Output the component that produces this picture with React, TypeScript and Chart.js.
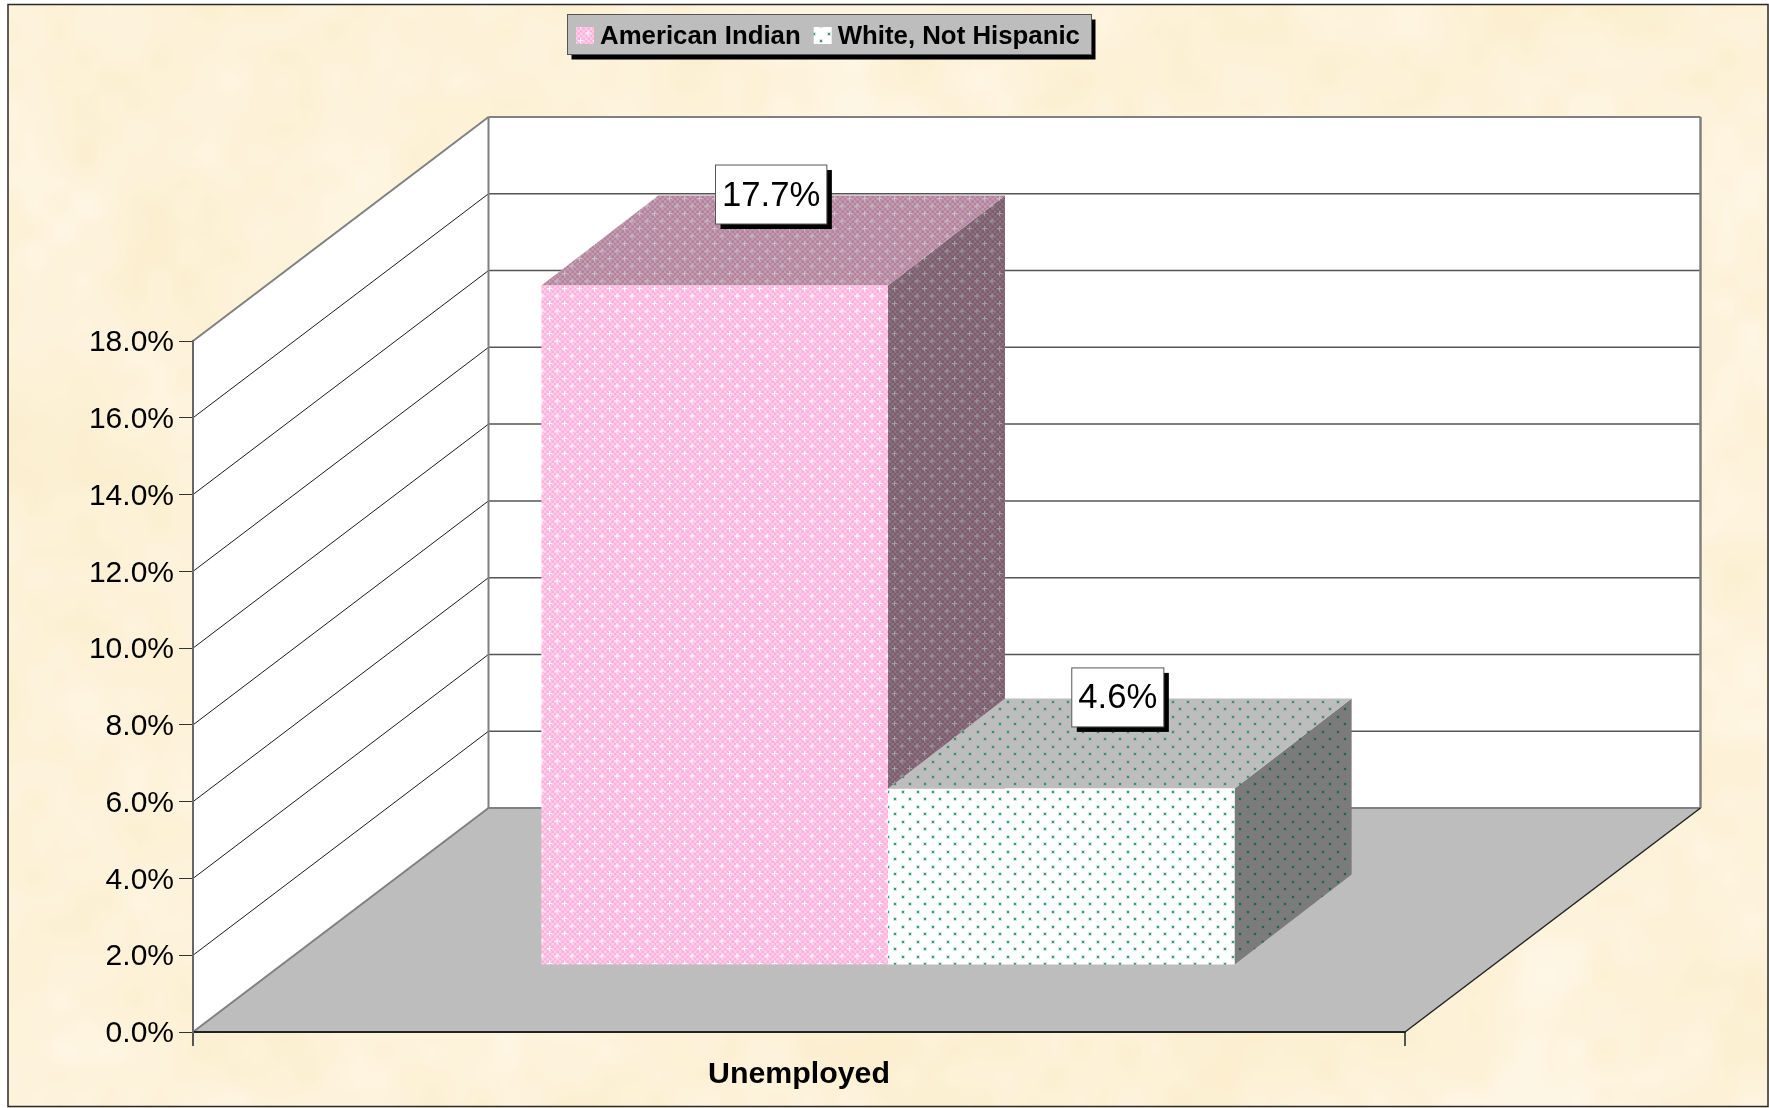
import React, { useEffect, useRef } from "react";
import { Chart, registerables } from "chart.js";

Chart.register(...registerables);

const categories = ["Unemployed"];
const seriesNames = ["American Indian", "White, Not Hispanic"];
const americanIndian = [17.7];
const whiteNotHispanic = [4.6];
const axisMax = 18;
const axisStep = 2;

const W = 1769;
const H = 1108;
const FONT = '"Liberation Sans", Arial, sans-serif';
const AREA_LEFT = 193;
const AREA_TOP = 341;
const AREA_RIGHT = 1405;
const AREA_BOTTOM = 1032;
const FLOOR_DX = 295.5;
const FLOOR_DY = -224;
const BAR_SHIFT_X = 89;
const BAR_SHIFT_Y = -67;
const BAR_DX = 117;
const BAR_DY = -90;

function tile(draw: (c: CanvasRenderingContext2D) => void, size = 15) {
  const cv = document.createElement("canvas");
  cv.width = size;
  cv.height = size;
  const c = cv.getContext("2d")!;
  draw(c);
  return c.createPattern(cv, "repeat")!;
}

function checkTile(mean: string, a: string, b: string, plus: string) {
  return tile((c) => {
    c.fillStyle = mean;
    c.fillRect(0, 0, 15, 15);
    const cell = 2.5;
    for (let i = 0; i < 6; i++) {
      for (let j = 0; j < 6; j++) {
        c.fillStyle = (i + j) % 2 === 0 ? a : b;
        c.fillRect(i * cell, j * cell, cell, cell);
      }
    }
    c.fillStyle = plus;
    for (const [x, y] of [[3, 3], [10.5, 10.5]]) {
      c.fillRect(x - 2.5, y - 0.5, 5, 1);
      c.fillRect(x - 0.5, y - 2.5, 1, 5);
    }
  });
}

function dotTile(bg: string, halo: string, dot: string) {
  return tile((c) => {
    c.fillStyle = bg;
    c.fillRect(0, 0, 15, 15);
    for (const [x, y] of [[3, 3], [10, 10]]) {
      c.fillStyle = halo;
      c.fillRect(x - 1, y - 1, 4, 4);
      c.fillStyle = dot;
      c.fillRect(x, y, 2, 2);
    }
  });
}

function parchment() {
  const cv = document.createElement("canvas");
  const sw = Math.ceil(W / 5);
  const sh = Math.ceil(H / 5);
  cv.width = sw;
  cv.height = sh;
  const c = cv.getContext("2d")!;
  const img = c.createImageData(sw, sh);
  const hash = (x: number, y: number) => {
    const s = Math.sin(x * 127.1 + y * 311.7) * 43758.5453;
    return s - Math.floor(s);
  };
  const smooth = (t: number) => t * t * (3 - 2 * t);
  const noise = (x: number, y: number) => {
    const xi = Math.floor(x);
    const yi = Math.floor(y);
    const u = smooth(x - xi);
    const v = smooth(y - yi);
    const top = hash(xi, yi) * (1 - u) + hash(xi + 1, yi) * u;
    const bot = hash(xi, yi + 1) * (1 - u) + hash(xi + 1, yi + 1) * u;
    return top * (1 - v) + bot * v;
  };
  for (let y = 0; y < sh; y++) {
    for (let x = 0; x < sw; x++) {
      const n =
        0.3 * noise(x / 40, y / 40) +
        0.4 * noise(x / 14 + 40, y / 14 + 9) +
        0.3 * noise(x / 5 + 7, y / 5 + 70);
      const k = (n - 0.5) * 2;
      const i = (x + y * sw) * 4;
      img.data[i] = 253 + k * 2;
      img.data[i + 1] = 242 + k * 6;
      img.data[i + 2] = 217 + k * 17;
      img.data[i + 3] = 255;
    }
  }
  c.putImageData(img, 0, 0);
  return cv;
}

function poly(c: CanvasRenderingContext2D, pts: number[][], fill?: any) {
  c.beginPath();
  pts.forEach(([x, y], i) => (i ? c.lineTo(x, y) : c.moveTo(x, y)));
  c.closePath();
  c.fillStyle = fill;
  c.fill();
}

function line(c: CanvasRenderingContext2D, x1: number, y1: number, x2: number, y2: number, color: string, lw: number) {
  c.beginPath();
  c.moveTo(x1, y1);
  c.lineTo(x2, y2);
  c.strokeStyle = color;
  c.lineWidth = lw;
  c.stroke();
}

export default function App() {
  const ref = useRef<HTMLCanvasElement>(null);

  useEffect(() => {
    const pinkFront = checkTile("#FFC0E4", "#FFB0DC", "#FFD0EC", "#FFFFFF");
    const pinkTop = checkTile("#BB8FA8", "#B0829C", "#C69CB3", "#C8C0C4");
    const pinkSide = checkTile("#836675", "#7A5D6C", "#8E7281", "#A0A0A0");
    const whiteFront = dotTile("#FFFFFF", "#D5EBE2", "#3A9A74");
    const whiteTop = dotTile("#BDBDBD", "#A6B8AF", "#458A6E");
    const whiteSide = dotTile("#7B7B7B", "#6E7A74", "#21634B");
    const paper = parchment();
    const fronts = [pinkFront, whiteFront];
    const tops = [pinkTop, whiteTop];
    const sides = [pinkSide, whiteSide];

    const scene3d = {
      id: "scene3d",
      beforeDraw(chart: any) {
        const c = chart.ctx as CanvasRenderingContext2D;
        const y = chart.scales.y;
        const a = chart.chartArea;
        const y0 = y.getPixelForValue(0);
        const yT = y.getPixelForValue(axisMax);
        c.save();
        c.fillStyle = "#FFFFFF";
        c.fillRect(0, 0, W, H);
        c.imageSmoothingEnabled = true;
        c.imageSmoothingQuality = "high";
        c.drawImage(paper, 8, 4, W - 8, H - 4);
        c.strokeStyle = "#2A2A2A";
        c.lineWidth = 1.5;
        c.strokeRect(8, 4.5, W - 9, H - 6);

        const bl = a.left + FLOOR_DX;
        const br = a.right + FLOOR_DX;
        poly(c, [[bl, yT + FLOOR_DY], [br, yT + FLOOR_DY], [br, y0 + FLOOR_DY], [bl, y0 + FLOOR_DY]], "#FFFFFF");
        poly(c, [[a.left, yT], [bl, yT + FLOOR_DY], [bl, y0 + FLOOR_DY], [a.left, y0]], "#FFFFFF");
        poly(c, [[a.left, y0], [a.right, y0], [br, y0 + FLOOR_DY], [bl, y0 + FLOOR_DY]], "#BDBDBD");

        y.ticks.forEach((t: any) => {
          if (t.value === 0 || t.value === axisMax) return;
          const p = y.getPixelForValue(t.value);
          line(c, a.left, p, bl, p + FLOOR_DY, "#1A1A1A", 1);
          line(c, bl, p + FLOOR_DY, br, p + FLOOR_DY, "#555555", 1.5);
        });
        line(c, a.left, yT, bl, yT + FLOOR_DY, "#808080", 2);
        line(c, bl, yT + FLOOR_DY, br, yT + FLOOR_DY, "#808080", 2);
        line(c, bl, yT + FLOOR_DY, bl, y0 + FLOOR_DY, "#808080", 2);
        line(c, br, yT + FLOOR_DY, br, y0 + FLOOR_DY, "#808080", 2.5);
        line(c, bl, y0 + FLOOR_DY, br, y0 + FLOOR_DY, "#808080", 2);
        line(c, a.left, y0, bl, y0 + FLOOR_DY, "#808080", 2);
        line(c, a.right, y0, br, y0 + FLOOR_DY, "#222222", 1.5);
        c.restore();
      },
      beforeDatasetsDraw(chart: any) {
        const c = chart.ctx as CanvasRenderingContext2D;
        c.save();
        c.translate(BAR_SHIFT_X, BAR_SHIFT_Y);
        chart.data.datasets.forEach((_: any, i: number) => {
          chart.getDatasetMeta(i).data.forEach((bar: any) => {
            const l = bar.x - bar.width / 2;
            const r = bar.x + bar.width / 2;
            poly(c, [[r, bar.y], [r + BAR_DX, bar.y + BAR_DY], [r + BAR_DX, bar.base + BAR_DY], [r, bar.base]], sides[i]);
            poly(c, [[l, bar.y], [r, bar.y], [r + BAR_DX, bar.y + BAR_DY], [l + BAR_DX, bar.y + BAR_DY]], tops[i]);
          });
        });
      },
      afterDatasetsDraw(chart: any) {
        const c = chart.ctx as CanvasRenderingContext2D;
        c.restore();
        c.save();
        c.font = `34.7px ${FONT}`;
        c.textAlign = "center";
        c.textBaseline = "middle";
        chart.data.datasets.forEach((ds: any, i: number) => {
          chart.getDatasetMeta(i).data.forEach((bar: any, j: number) => {
            const text = `${ds.data[j].toFixed(1)}%`;
            const cx = bar.x + BAR_SHIFT_X + BAR_DX / 2 - 2;
            const cy = bar.y + BAR_SHIFT_Y + BAR_DY - 1;
            const w = c.measureText(text).width + 13;
            const h = 59;
            c.fillStyle = "#000000";
            c.fillRect(cx - w / 2 + 5, cy - h / 2 + 5, w, h);
            c.fillStyle = "#FFFFFF";
            c.fillRect(cx - w / 2, cy - h / 2, w, h);
            c.strokeStyle = "#555555";
            c.lineWidth = 1;
            c.strokeRect(cx - w / 2, cy - h / 2, w, h);
            c.fillStyle = "#000000";
            c.fillText(text, cx, cy + 1.5);
          });
        });
        c.restore();
      },
      afterDraw(chart: any) {
        const c = chart.ctx as CanvasRenderingContext2D;
        c.save();
        const lx = 567.5;
        const ly = 14.5;
        const lw = 524;
        const lh = 40;
        c.fillStyle = "#000000";
        c.fillRect(lx + 4, ly + 5, lw, lh);
        c.fillStyle = "#BDBDBD";
        c.fillRect(lx, ly, lw, lh);
        c.strokeStyle = "#555555";
        c.lineWidth = 1;
        c.strokeRect(lx, ly, lw, lh);
        c.font = `bold 25.8px ${FONT}`;
        c.textBaseline = "middle";
        c.textAlign = "left";
        let x = 576;
        chart.data.datasets.forEach((ds: any, i: number) => {
          c.fillStyle = fronts[i];
          c.fillRect(x, 27, 18, 17);
          c.fillStyle = "#000000";
          c.fillText(ds.label, x + 24, 36.5);
          x += 24 + c.measureText(ds.label).width + 13;
        });
        c.restore();
      },
    };

    const chart = new Chart(ref.current!, {
      type: "bar",
      data: {
        labels: categories,
        datasets: [
          { label: seriesNames[0], data: americanIndian, backgroundColor: pinkFront, clip: false },
          { label: seriesNames[1], data: whiteNotHispanic, backgroundColor: whiteFront, clip: false },
        ],
      } as any,
      options: {
        responsive: false,
        animation: false,
        devicePixelRatio: 1,
        layout: { padding: { left: 0, top: AREA_TOP, right: W - AREA_RIGHT, bottom: 0 } },
        datasets: { bar: { barPercentage: 1, categoryPercentage: 0.572, borderWidth: 0 } },
        plugins: { legend: { display: false }, title: { display: false }, tooltip: { enabled: false } },
        scales: {
          x: {
            afterFit: (s: any) => {
              s.height = H - AREA_BOTTOM;
            },
            grid: { drawOnChartArea: false, color: "#555555", lineWidth: 2, tickLength: 14 },
            border: { color: "#222222", width: 2 },
            ticks: {
              color: "#000000",
              padding: 10,
              maxRotation: 0,
              font: { family: FONT, size: 30.3, weight: "bold" },
            },
          },
          y: {
            min: 0,
            max: axisMax,
            afterFit: (s: any) => {
              s.width = AREA_LEFT;
            },
            grid: { drawOnChartArea: false, color: "#333333", lineWidth: 1, tickLength: 14 },
            border: { color: "#666666", width: 2 },
            ticks: {
              stepSize: axisStep,
              color: "#000000",
              padding: 5,
              labelOffset: 2,
              font: { family: FONT, size: 30 },
              callback: (v: any) => `${Number(v).toFixed(1)}%`,
            },
          },
        },
      } as any,
      plugins: [scene3d],
    });
    return () => chart.destroy();
  }, []);

  return (
    <canvas
      ref={ref}
      width={W}
      height={H}
      style={{ position: "absolute", left: 0, top: 0, display: "block", width: W, height: H }}
    />
  );
}
